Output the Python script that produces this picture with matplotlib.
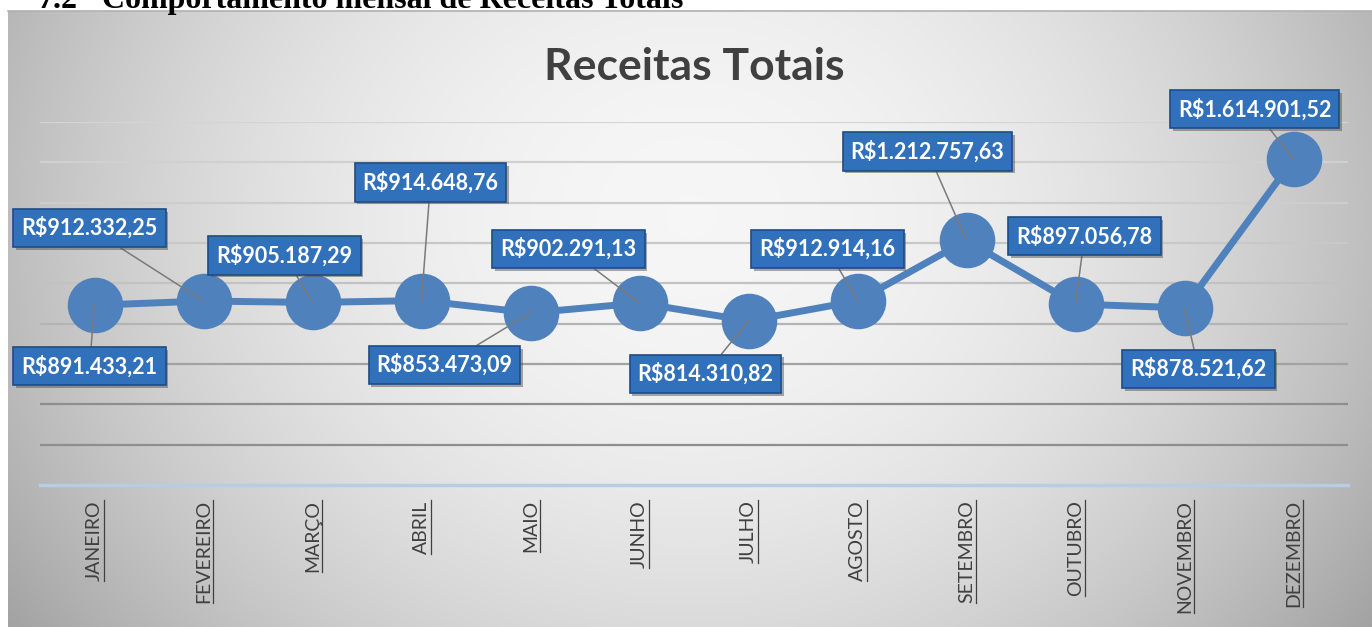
import numpy as np
import matplotlib
matplotlib.use('Agg')
import matplotlib.pyplot as plt
from matplotlib.lines import Line2D
import matplotlib.patheffects as pe

# data
meses = ['JANEIRO', 'FEVEREIRO', 'MARÇO', 'ABRIL', 'MAIO', 'JUNHO', 'JULHO',
         'AGOSTO', 'SETEMBRO', 'OUTUBRO', 'NOVEMBRO', 'DEZEMBRO']
receitas = [891433.21, 912332.25, 905187.29, 914648.76, 853473.09, 902291.13,
            814310.82, 912914.16, 1212757.63, 897056.78, 878521.62, 1614901.52]
rotulos = ['R$891.433,21', 'R$912.332,25', 'R$905.187,29', 'R$914.648,76',
           'R$853.473,09', 'R$902.291,13', 'R$814.310,82', 'R$912.914,16',
           'R$1.212.757,63', 'R$897.056,78', 'R$878.521,62', 'R$1.614.901,52']
grade = [200000, 400000, 600000, 800000, 1000000, 1200000, 1400000, 1600000, 1800000]

# label box offsets (pixels from the point)
offsets = [(-5, -61), (-114, 73), (-28, 47), (9, 118), (-86, -52), (-71, 54),
           (-43, -53), (-30, 52), (-39, 89), (9, 68), (14, -61), (-39, 50)]

W, H = 1372, 627
fig = plt.figure(figsize=(W / 100, H / 100), dpi=100)
fig.patch.set_facecolor('white')

# header text of the document (cut at the top, as in the source page)
fig.text(37 / W, 1 - 8 / H, '7.2', fontfamily='Liberation Serif', fontweight='bold',
         fontsize=23, va='baseline', ha='left', color='black')
fig.text(102 / W, 1 - 8 / H, 'Comportamento mensal de Receitas Totais',
         fontfamily='Liberation Serif', fontweight='bold', fontsize=23,
         va='baseline', ha='left', color='black')

# chart area background with soft gradient
bg = fig.add_axes([8 / W, 0, 1 - 8 / W, (H - 11) / H])
yy, xx = np.mgrid[0:300, 0:600]
dx = (xx - 300) / 300.0
dy = (yy - 100) / 200.0
shade = 0.965 - 0.22 * dx ** 2 - 0.11 * dy ** 2
shade = np.clip(shade, 0, 1)
bg.imshow(np.dstack([shade, shade, shade]), aspect='auto',
          extent=[0, 1, 0, 1], origin='upper')
bg.set_xlim(0, 1)
bg.set_ylim(0, 1)
bg.axis('off')
fig.add_artist(Line2D([8 / W, 1], [1 - 11 / H, 1 - 11 / H], color='#B0B0B0', lw=1.2))

ax = fig.add_axes([40 / W, (H - 485) / H, 1308 / W, 363 / H])
ax.patch.set_alpha(0)
ax.set_xlim(-0.5, 11.5)
ax.set_ylim(0, 1800000)

grid_cols = ['#8E8E8E', '#8E8E8E', '#A2A2A2', '#B4B4B4', '#C2C2C2',
             '#C8C8C8', '#CDCDCD', '#D0D0D0', '#D4D4D4']
for g, c in zip(grade, grid_cols):
    ax.axhline(g, color=c, lw=1.6, zorder=1)

for s in ['top', 'right', 'left']:
    ax.spines[s].set_visible(False)
ax.spines['bottom'].set_color('#B8CCE4')
ax.spines['bottom'].set_linewidth(2.5)
ax.set_yticks([])
x = np.arange(len(meses))
ax.set_xticks(x)
ax.set_xticklabels(meses, rotation=90, fontsize=14, color='#404040', fontfamily='Lato')
ax.tick_params(axis='x', length=0, pad=11)

ax.plot(x, receitas, color='#4F81BD', lw=5, marker='o', markersize=39,
        markerfacecolor='#4F81BD', markeredgecolor='#4F81BD', zorder=3)

for i in range(len(meses)):
    a = ax.annotate(rotulos[i], xy=(x[i], receitas[i]), xytext=offsets[i],
                    textcoords='offset pixels', ha='center', va='center',
                    fontsize=15.5, fontweight='bold', color='white', fontfamily='Lato',
                    bbox=dict(boxstyle='square,pad=0.37', fc='#3170BA', ec='#1E4C85', lw=1.2),
                    arrowprops=dict(arrowstyle='-', color='#7A7A7A', lw=1.1,
                                    shrinkA=0, shrinkB=0),
                    zorder=5, annotation_clip=False)
    a.get_bbox_patch().set_path_effects([
        pe.SimplePatchShadow(offset=(2, -2), shadow_rgbFace='#555555', alpha=0.5),
        pe.Normal()])

fig.text(694 / W, 1 - 80 / H, 'Receitas Totais', ha='center', va='baseline',
         fontsize=32, fontweight='bold', color='#404040', fontfamily='Lato')

# underline the month labels
fig.canvas.draw()
r = fig.canvas.get_renderer()
for t in ax.get_xticklabels():
    bb = t.get_window_extent(r)
    xl = bb.x1 + 0.5
    fig.add_artist(Line2D([xl / W, xl / W], [bb.y0 / H, bb.y1 / H],
                          color='#404040', lw=0.9))

fig.savefig('out.png', dpi=100)
